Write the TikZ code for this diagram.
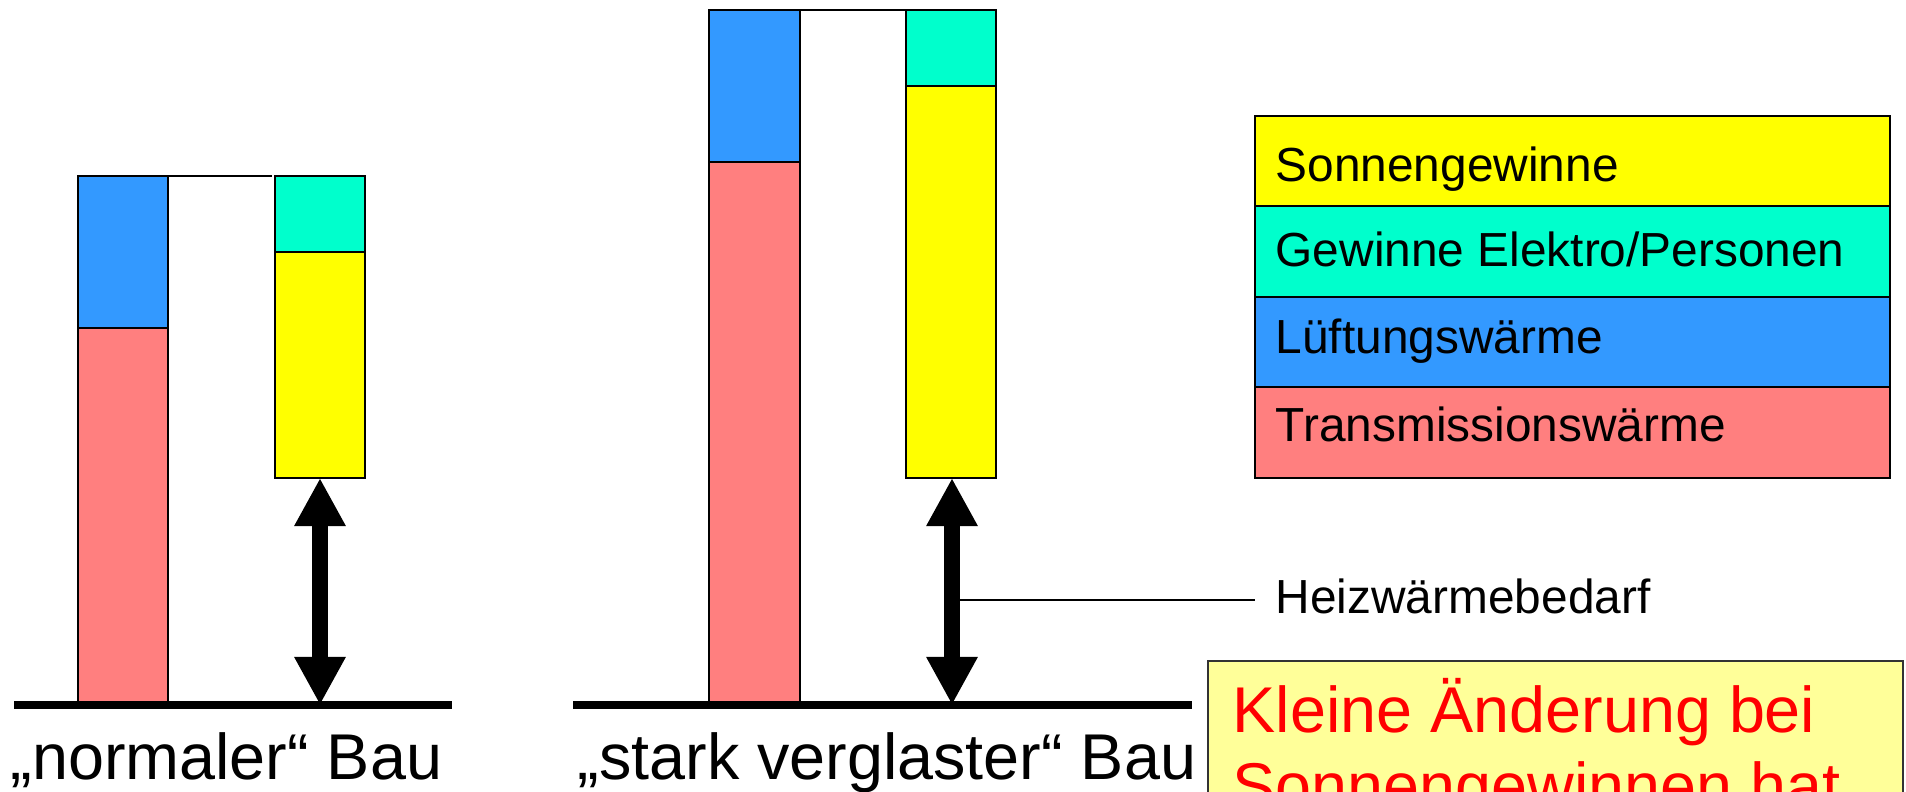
\documentclass[tikz,border=0pt]{standalone}
\usepackage{fontspec}
\setmainfont{Liberation Sans}
\usetikzlibrary{arrows.meta}
\definecolor{trans}{HTML}{FF7F7F}
\definecolor{luft}{HTML}{3399FF}
\definecolor{elek}{HTML}{00FFCC}
\definecolor{sonne}{HTML}{FFFF00}
\definecolor{note}{HTML}{FFFF99}
\begin{document}
\begin{tikzpicture}[x=0.01cm,y=-0.01cm,
  seg/.style={draw=black,line width=0.8pt},
  thinline/.style={draw=black,line width=0.45pt},
  ground/.style={line width=2pt},
  dbl/.style={line width=4.5pt,{Triangle[width=0.48cm,length=0.48cm]}-{Triangle[width=0.48cm,length=0.48cm]}},
  leg/.style={font=\fontsize{13.6}{16}\selectfont, anchor=base west, inner sep=0pt},
  big/.style={font=\fontsize{18.4}{22}\selectfont, anchor=base west, inner sep=0pt}]
\useasboundingbox (0,0) rectangle (1906,792);
\clip (0,0) rectangle (1906,792);
% group 1
\filldraw[seg, fill=trans] (78,328) rectangle (168,705);
\filldraw[seg, fill=luft] (78,176) rectangle (168,328);
\filldraw[seg, fill=sonne] (275,252) rectangle (365,478);
\filldraw[seg, fill=elek] (275,176) rectangle (365,252);
\coordinate (t1a) at (168,176);
\coordinate (t1b) at (272,176);
\draw[thinline] (t1a) -- (t1b);
\coordinate (g1a) at (14,705);
\coordinate (g1b) at (452,705);
\draw[ground] (g1a) -- (g1b);
\coordinate (a1t) at (320,478);
\coordinate (a1b) at (320,705);
\draw[dbl] (a1t) -- (a1b);
\node[big] (lab1) at (10,780) {„normaler“ Bau};
% group 2
\filldraw[seg, fill=trans] (709,162) rectangle (800,705);
\filldraw[seg, fill=luft] (709,10) rectangle (800,162);
\filldraw[seg, fill=sonne] (906,86) rectangle (996,478);
\filldraw[seg, fill=elek] (906,10) rectangle (996,86);
\coordinate (t2a) at (800,10);
\coordinate (t2b) at (906,10);
\draw[thinline] (t2a) -- (t2b);
\coordinate (g2a) at (573,705);
\coordinate (g2b) at (1192,705);
\draw[ground] (g2a) -- (g2b);
\coordinate (a2t) at (952,478);
\coordinate (a2b) at (952,705);
\draw[dbl] (a2t) -- (a2b);
\node[big] (lab2) at (577,780) {„stark verglaster“ Bau};
% Heizwaermebedarf
\node[leg] (hz) at (1275,614) {Heizwärmebedarf};
\coordinate (hzs) at (952,600);
\coordinate (hze) at (1255,600);
\draw[thinline] (hzs) -- (hze);
% legend
\filldraw[seg, fill=sonne] (1255,116) rectangle (1890,206);
\filldraw[seg, fill=elek] (1255,206) rectangle (1890,297);
\filldraw[seg, fill=luft] (1255,297) rectangle (1890,387);
\filldraw[seg, fill=trans] (1255,387) rectangle (1890,478);
\node[leg] (l1) at (1275,182) {Sonnengewinne};
\node[leg] (l2) at (1275,267) {Gewinne Elektro/Personen};
\node[leg] (l3) at (1275,354) {Lüftungswärme};
\node[leg] (l4) at (1275,442) {Transmissionswärme};
% note box
\filldraw[draw=black!80, line width=0.6pt, fill=note] (1208,661) rectangle (1903,900);
\node[big, text=red] (n1) at (1232,733) {Kleine Änderung bei};
\node[big, text=red] (n2) at (1232,809) {Sonnengewinnen hat};
\end{tikzpicture}
\end{document}
